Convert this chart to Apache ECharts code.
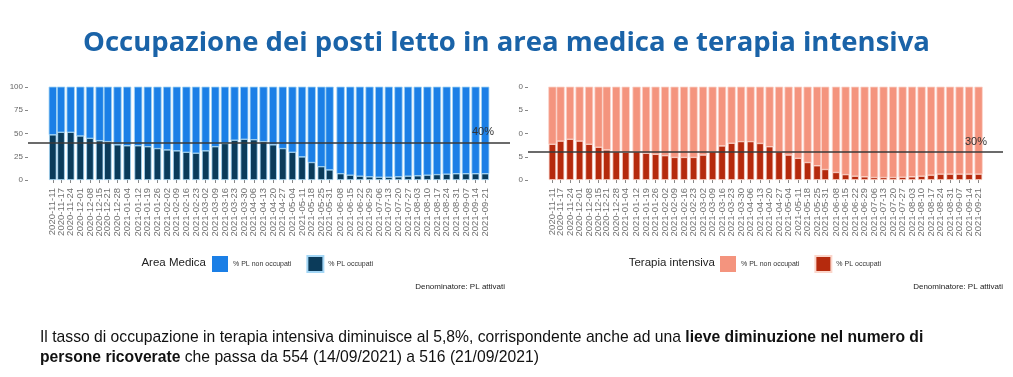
<!DOCTYPE html>
<html>
<head>
<meta charset="utf-8">
<script src="https://cdn.jsdelivr.net/npm/echarts@6/dist/echarts.min.js"></script>
<style>
  html, body { margin: 0; padding: 0; background: #fff; }
  #chart { width: 1013px; height: 377px; }
</style>
</head>
<body>
<div id="chart"></div>
<script>
const dates = [
  "2020-11-11", "2020-11-17", "2020-11-24", "2020-12-01", "2020-12-08", "2020-12-15",
  "2020-12-21", "2020-12-28", "2021-01-04", "2021-01-12", "2021-01-19", "2021-01-26",
  "2021-02-02", "2021-02-09", "2021-02-16", "2021-02-23", "2021-03-02", "2021-03-09",
  "2021-03-16", "2021-03-23", "2021-03-30", "2021-04-06", "2021-04-13", "2021-04-20",
  "2021-04-27", "2021-05-04", "2021-05-11", "2021-05-18", "2021-05-25", "2021-05-31",
  "2021-06-08", "2021-06-15", "2021-06-22", "2021-06-29", "2021-07-06", "2021-07-13",
  "2021-07-20", "2021-07-27", "2021-08-03", "2021-08-10", "2021-08-17", "2021-08-24",
  "2021-08-31", "2021-09-07", "2021-09-14", "2021-09-21"
];

// % posti letto occupati, area medica
const areaMedicaOcc = [
  48.7, 51.5, 51.5, 47.5, 45, 42.5, 41.5, 38, 37, 37, 36, 34,
  32.5, 31.5, 30, 29, 31.5, 36, 39.5, 43, 44, 43.5, 41.5, 38,
  34, 30, 25, 19, 14.5, 11, 7, 5.4, 4.3, 3.6, 3.2, 3.2,
  3.6, 4.3, 4.7, 5.4, 6, 6.5, 6.9, 6.9, 6.9, 6.9
];

// % posti letto occupati, terapia intensiva
const terapiaOcc = [
  38.6, 42, 44, 42, 38.6, 35.4, 32.5, 30.7, 30, 30.7, 29, 27.8,
  26.4, 24.5, 24.5, 24.5, 27, 30.7, 36.8, 39.7, 41.5, 41.5, 39.5, 36,
  30.7, 27, 23.5, 19, 15.5, 11.5, 8.3, 6, 4.3, 3.6, 2.9, 2.9,
  2.9, 3.2, 3.6, 4.3, 5.4, 6.5, 6.5, 6.5, 6.5, 6.5
];

// % non occupati = complemento a 100
const areaMedicaFree = areaMedicaOcc.map((v) => 100 - v);
const terapiaFree = terapiaOcc.map((v) => 100 - v);

const thresholds = [40, 30];
const legendNames = { amFree: "% PL non occupati", amOcc: "% PL occupati", tiFree: "% PL non occupati", tiOcc: "% PL occupati" };

// x positions in days since the first date (dates are unevenly spaced)
const DAY = 86400000;
const t0 = Date.UTC(2020, 10, 11);
const dayOf = (d) => {
  const p = d.split("-").map(Number);
  return Math.round((Date.UTC(p[0], p[1] - 1, p[2]) - t0) / DAY);
};
const xs = dates.map(dayOf);
const xMin = xs[0] - 18;
const xMax = xs[xs.length - 1] + 18;
const labelOf = {};
xs.forEach((x, i) => { labelOf[x] = dates[i]; });
// empty labels at the axis ends, so the min/max label check doesn't hide real dates
const labelValues = [xMin, ...xs, xMax];

const BAR_W = 7.5;

const chart = echarts.init(document.getElementById("chart"), undefined, { renderer: "canvas" });

function xAxisFor(gridIndex) {
  return {
    type: "value",
    gridIndex,
    min: xMin,
    max: xMax,
    splitLine: { show: false },
    axisLine: { show: false, onZero: false },
    axisTick: { show: true, customValues: xs, length: 3, lineStyle: { color: "#888" } },
    axisLabel: {
      customValues: labelValues,
      formatter: (v) => labelOf[Math.round(v)] || "",
      rotate: 90,
      fontSize: 9.5,
      lineHeight: 6,
      color: "#707070",
      margin: 8,
      fontFamily: "Liberation Sans",
      hideOverlap: false,
      showMinLabel: true,
      showMaxLabel: true
    }
  };
}

function yAxisFor(gridIndex, cut) {
  return {
    type: "value",
    gridIndex,
    min: 0,
    max: 100,
    interval: 25,
    splitLine: { show: false },
    axisLine: { show: false, onZero: false },
    axisTick: { show: true, length: 3, lineStyle: { color: "#888" } },
    axisLabel: {
      fontSize: 8,
      color: "#666",
      margin: 5,
      fontFamily: "Liberation Sans",
      formatter: (v) => (cut ? String(v).slice(-1) : String(v))
    }
  };
}

function barPair(gridIndex, occ, free, occName, freeName, occColor, freeColor, border, thr) {
  return [
    {
      name: occName,
      type: "bar",
      xAxisIndex: gridIndex,
      yAxisIndex: gridIndex,
      barWidth: BAR_W,
      itemStyle: { color: occColor, borderColor: border, borderWidth: 0.8 },
      data: occ.map((v, i) => [xs[i], v]),
      z: 2,
      markLine: {
        silent: true,
        symbol: "none",
        z: 5,
        lineStyle: { color: "#3a3a3a", width: 1.5, type: "solid" },
        label: {
          formatter: thr + "%",
          position: "insideEndTop",
          distance: [16, 5],
          color: "#333",
          fontSize: 11,
          fontFamily: "Liberation Sans"
        },
        data: [{ yAxis: thr }]
      }
    },
    {
      // segment stacked on top of the occupied bar
      name: freeName,
      type: "custom",
      xAxisIndex: gridIndex,
      yAxisIndex: gridIndex,
      itemStyle: { color: freeColor },
      encode: { x: 0, y: [1, 2] },
      data: free.map((v, i) => [xs[i], occ[i], occ[i] + v]),
      z: 2,
      renderItem: (params, api) => {
        const top = api.coord([api.value(0), api.value(2)]);
        const base = api.coord([api.value(0), api.value(1)]);
        return {
          type: "rect",
          shape: { x: top[0] - BAR_W / 2, y: top[1], width: BAR_W, height: base[1] - top[1] },
          style: { fill: freeColor, stroke: border, lineWidth: 0.8 }
        };
      }
    }
  ];
}

const option = {
  backgroundColor: "#fff",
  animation: false,
  title: [
    {
      text: "Occupazione dei posti letto in area medica e terapia intensiva",
      left: "center",
      top: 29,
      padding: 0,
      textStyle: { color: "#1a63a8", fontSize: 27.5, fontWeight: "bold", fontFamily: "Open Sans" }
    },
    {
      text: "Area Medica",
      right: 1013 - 206,
      top: 257,
      padding: 0,
      textStyle: { color: "#222", fontSize: 11.5, fontWeight: "normal", fontFamily: "Liberation Sans" }
    },
    {
      text: "Terapia intensiva",
      right: 1013 - 715,
      top: 257,
      padding: 0,
      textStyle: { color: "#222", fontSize: 11.5, fontWeight: "normal", fontFamily: "Liberation Sans" }
    },
    {
      text: "Denominatore: PL attivati",
      right: 1013 - 505,
      top: 283,
      padding: 0,
      textStyle: { color: "#222", fontSize: 8, fontWeight: "normal", fontFamily: "Liberation Sans" }
    },
    {
      text: "Denominatore: PL attivati",
      right: 1013 - 1003,
      top: 283,
      padding: 0,
      textStyle: { color: "#222", fontSize: 8, fontWeight: "normal", fontFamily: "Liberation Sans" }
    },
    {
      text:
        "{n|Il tasso di occupazione in terapia intensiva diminuisce al 5,8%, corrispondente anche ad una }{b|lieve diminuzione nel numero di}\n" +
        "{b|persone ricoverate}{n| che passa da 554 (14/09/2021) a 516 (21/09/2021)}",
      left: 40,
      top: 328,
      padding: 0,
      textStyle: {
        fontWeight: "normal",
        rich: {
          n: { fontSize: 15.7, color: "#111", fontWeight: "normal", fontFamily: "Liberation Sans", lineHeight: 20 },
          b: { fontSize: 15.7, color: "#111", fontWeight: "bold", fontFamily: "Liberation Sans", lineHeight: 20 }
        }
      }
    }
  ],
  legend: [
    {
      data: ["amFree", "amOcc"],
      left: 212,
      top: 255,
      padding: 0,
      icon: "rect",
      itemWidth: 16,
      itemHeight: 16,
      itemGap: 15,
      selectedMode: false,
      formatter: (n) => legendNames[n],
      textStyle: { fontSize: 7, color: "#333", fontFamily: "Liberation Sans" }
    },
    {
      data: ["tiFree", "tiOcc"],
      left: 720,
      top: 255,
      padding: 0,
      icon: "rect",
      itemWidth: 16,
      itemHeight: 16,
      itemGap: 15,
      selectedMode: false,
      formatter: (n) => legendNames[n],
      textStyle: { fontSize: 7, color: "#333", fontFamily: "Liberation Sans" }
    }
  ],
  grid: [
    { left: 28, width: 482, top: 87, height: 93 },
    { left: 528, width: 475, top: 87, height: 93 }
  ],
  xAxis: [xAxisFor(0), xAxisFor(1)],
  yAxis: [yAxisFor(0, false), yAxisFor(1, true)],
  series: [
    ...barPair(0, areaMedicaOcc, areaMedicaFree, "amOcc", "amFree", "#0b3b5a", "#1b7fe6", "#a3d6f5", thresholds[0]),
    ...barPair(1, terapiaOcc, terapiaFree, "tiOcc", "tiFree", "#b52a0d", "#f4947e", "#fbd6cb", thresholds[1])
  ]
};

chart.setOption(option);
</script>
</body>
</html>
